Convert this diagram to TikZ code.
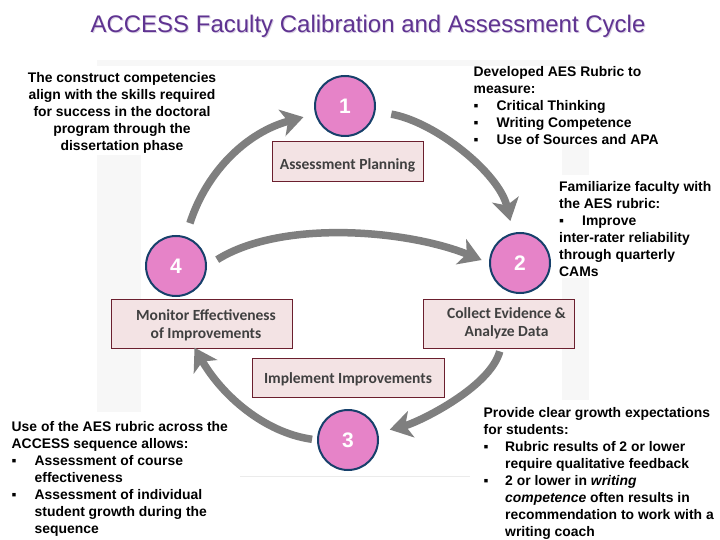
\documentclass[tikz,border=0pt]{standalone}
\usepackage{fontspec}
\setmainfont{Liberation Sans}
\newfontfamily\boxfont{Carlito}
\usetikzlibrary{arrows.meta}
\definecolor{cyc}{HTML}{7F7F7F}
\definecolor{ringc}{HTML}{17406B}
\definecolor{pinkc}{HTML}{E683C8}
\definecolor{boxfill}{HTML}{F3E3E4}
\definecolor{boxline}{HTML}{6B1F2E}
\definecolor{titlec}{HTML}{5F3391}
\definecolor{titleshade}{HTML}{D9CFE3}
\newcommand{\itemA}{\makebox[23pt][l]{▪}}
\newcommand{\itemB}{\makebox[21.5pt][l]{▪}}
\newcommand{\lowered}[2]{\raisebox{-#1}[\height][\depth]{#2}}
\tikzset{
 x=1pt,y=-1pt,
 numc/.style={circle,draw=ringc,line width=2pt,fill=pinkc,minimum size=60pt,inner sep=0pt,text=white,font=\fontsize{21}{21}\selectfont\bfseries},
 lab/.style={draw=boxline,line width=1pt,fill=boxfill,inner sep=0pt,text=black!75,font=\boxfont\bfseries\fontsize{15.5}{18}\selectfont,align=center},
 cycarrow/.style={draw=cyc,line width=7.5pt,-{Stealth[length=22pt,width=27pt,inset=6pt]}},
 note/.style={inner sep=0pt,font=\bfseries\fontsize{13.9}{17}\selectfont,text=black,anchor=north west},
 strip/.style={fill=black!3,draw=none},
 ttl/.style={font=\fontsize{24}{28}\selectfont}
}
\begin{document}
\begin{tikzpicture}
\useasboundingbox (0,0) rectangle (720,540);
\fill[strip] (97,60) rectangle (590,66);
\fill[strip] (97,155) rectangle (141,412);
\fill[strip] (562,145) rectangle (589,400);
\fill[white] (555,175) rectangle (595,278);
\draw[black!8,line width=0.5pt] (240,476) -- (470,476);
\node[ttl,text=titleshade] (titleb) at (369,27.5) {ACCESS Faculty Calibration and Assessment Cycle};
\node[ttl,text=titlec] (title) at (368,26.5) {ACCESS Faculty Calibration and Assessment Cycle};
\node[numc] (n1) at (345,106) {1};
\node[numc] (n2) at (520,263) {2};
\node[numc] (n3) at (348,440) {3};
\node[numc] (n4) at (176,266) {4};
\node[lab,minimum width=151pt,minimum height=40pt] (b1) at (347.5,162) {\lowered{3pt}{Assessment Planning}};
\node[lab,minimum width=181pt,minimum height=49pt] (b4) at (202,323.5) {\hspace*{8pt}\lowered{2pt}{Monitor Effectiveness}\\\hspace*{8pt}\lowered{2pt}{of Improvements}};
\node[lab,minimum width=151pt,minimum height=49pt] (b2) at (498.5,323.5) {\hspace*{16pt}Collect Evidence \&\\\hspace*{16pt}Analyze Data};
\node[lab,minimum width=192pt,minimum height=39pt] (b3) at (348,377.5) {\lowered{2pt}{Implement Improvements}};
\draw[cycarrow,shorten <=14pt,shorten >=12pt] (n4) to[out=72,in=195] (n1);
\draw[cycarrow,shorten <=16pt,shorten >=12pt] (n1) to[out=-10,in=103,looseness=.85] (n2);
\draw[cycarrow,shorten <=12pt,shorten >=8pt] (n4.east) to[out=32,in=158,looseness=.8] (n2.west);
\draw[cycarrow,shorten >=12pt,shorten <=3pt] ([xshift=2pt]b2.south) to[out=-105,in=14,looseness=.7] (n3);
\draw[cycarrow,shorten <=5pt,shorten >=-1pt] (n3.west) to[out=172,in=-60,looseness=.9] ([xshift=-7pt]b4.south);
\node[note,align=center,anchor=north] (t1) at (122,72) {The construct competencies\\align with the skills required\\for success in the doctoral\\program through the\\dissertation phase};
\node[note,align=left] (t2) at (473.5,66.5) {Developed AES Rubric to\\measure:\\\itemA Critical Thinking\\\itemA Writing Competence\\\itemA Use of Sources and APA};
\node[note,align=left] (t3) at (559,181.5) {Familiarize faculty with\\the AES rubric:\\\itemA Improve\\inter-rater reliability\\through quarterly\\CAMs};
\node[note,align=left] (t4) at (11.5,421) {Use of the AES rubric across the\\ACCESS sequence allows:\\\itemA Assessment of course\\\hspace*{23pt}effectiveness\\\itemA Assessment of individual\\\hspace*{23pt}student growth during the\\\hspace*{23pt}sequence};
\node[note,align=left] (t5) at (483.5,407) {Provide clear growth expectations\\for students:\\\itemB Rubric results of 2 or lower\\\hspace*{21.5pt}require qualitative feedback\\\itemB 2 or lower in \textit{writing}\\\hspace*{21.5pt}\textit{competence} often results in\\\hspace*{21.5pt}recommendation to work with a\\\hspace*{21.5pt}writing coach};
\end{tikzpicture}
\end{document}
